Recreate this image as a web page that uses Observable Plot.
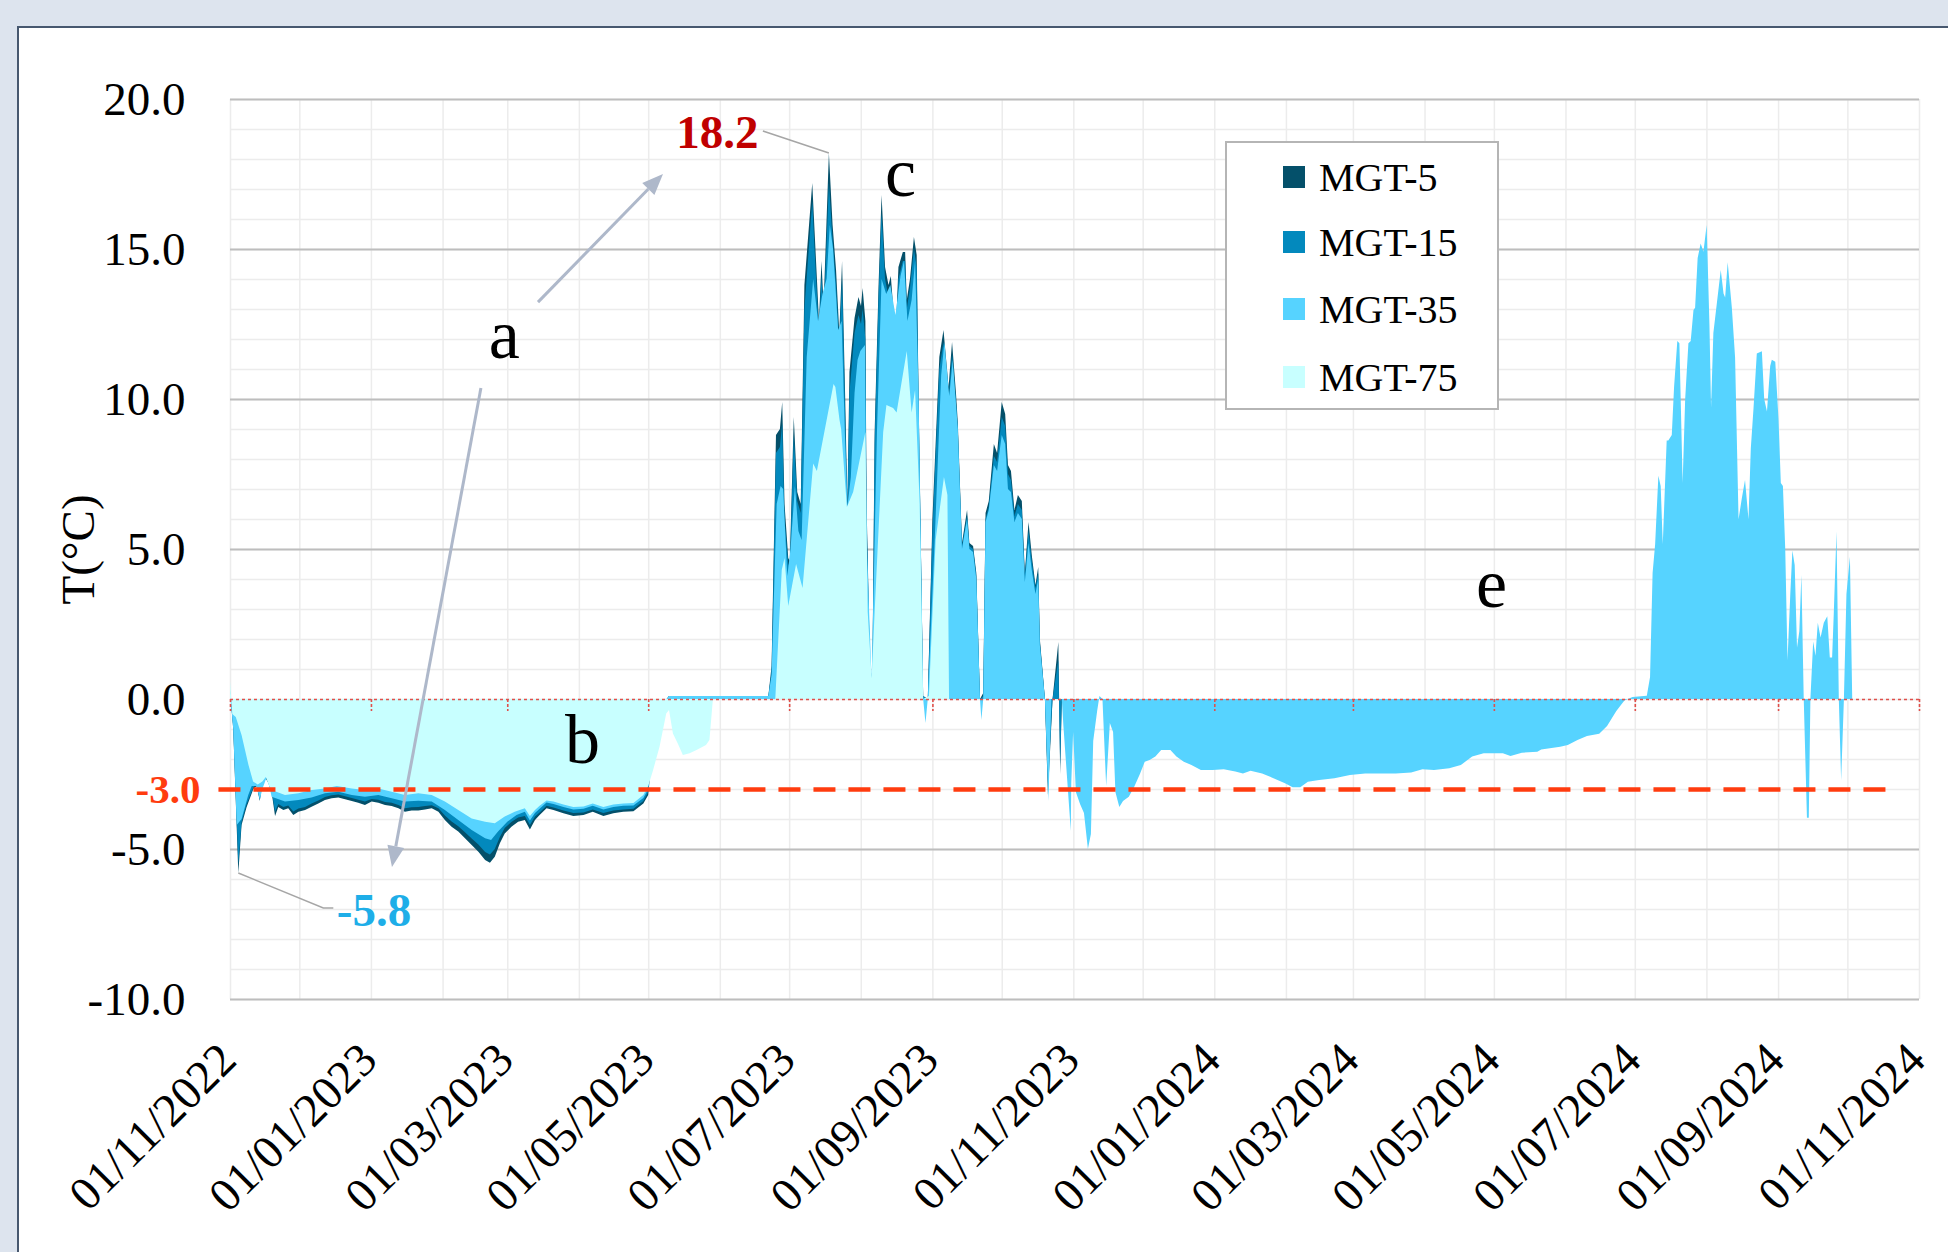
<!DOCTYPE html>
<html>
<head>
<meta charset="utf-8">
<script src="https://cdn.jsdelivr.net/npm/d3@7"></script>
<script src="https://cdn.jsdelivr.net/npm/@observablehq/plot@0.6"></script>
<style>
  html, body { margin: 0; padding: 0; }
  body {
    width: 1948px; height: 1252px; overflow: hidden; position: relative;
    background: #dde4ee;
    font-family: "Liberation Serif", "Times New Roman", serif;
  }
  #panel {
    position: absolute; left: 17px; top: 26px; width: 2000px; height: 1300px;
    background: #fff; border: 2px solid #47586f; box-sizing: border-box;
  }
  #chart { position: absolute; left: 0; top: 0; }
  #legend {
    position: absolute; left: 1225px; top: 141px; width: 274px; height: 269px;
    box-sizing: border-box; border: 2px solid #b5b5b5; background: #fff;
  }
  #legend .row {
    position: absolute; left: 56px; height: 44px;
    display: flex; align-items: center; font-size: 40px; color: #000; white-space: nowrap;
  }
  #legend .sw { width: 22px; height: 22px; margin-right: 14px; }
</style>
</head>
<body>
<div id="panel"></div>
<div id="chart"></div>
<div id="legend"></div>
<script>
// Ground temperature at four depths, day offsets counted from 01/11/2022.
const startDate = Date.UTC(2022, 10, 1);
const endDate = Date.UTC(2024, 10, 1);

const seriesNames = ["MGT-5", "MGT-15", "MGT-35", "MGT-75"];

const mgt5 = [
  [0,0.3],[1.4,-1.0],[3.6,-5.8],[5,-4.2],[7.2,-3.6],[10.1,-3.0],[11.5,-2.9],[12.9,-3.4],[14,-2.8],[15.1,-2.6],
  [16.6,-2.8],[18,-3.1],[19.5,-3.9],[20.9,-3.6],[23.1,-3.7],[25.2,-3.64],[27.4,-3.87],[29.6,-3.76],[32.5,-3.7],
  [35.3,-3.59],[38.2,-3.48],[41.1,-3.37],[44,-3.31],[46.9,-3.28],[49.8,-3.34],[52.7,-3.4],[55.5,-3.46],[58.4,-3.53],
  [61.3,-3.42],[64.2,-3.46],[67.1,-3.53],[70,-3.57],[72.9,-3.64],[75.7,-3.76],[78.6,-3.72],[81.5,-3.72],[84.4,-3.68],
  [87.3,-3.64],[90.2,-3.76],[93,-4.03],[95.9,-4.26],[98.8,-4.42],[101.7,-4.64],[104.6,-4.87],[107.5,-5.09],[110.4,-5.37],
  [112.5,-5.46],[114.6,-5.26],[116.8,-4.81],[118.9,-4.48],[121.8,-4.26],[124.7,-4.09],[127.6,-4.03],[129.8,-4.35],
  [132,-4.03],[134,-3.87],[137,-3.64],[140,-3.7],[144.3,-3.81],[148.6,-3.9],[153,-3.87],[157,-3.76],[161.6,-3.9],
  [165.9,-3.81],[170.2,-3.76],[174.6,-3.74],[178.9,-3.48],[181,-3.2],[183,-1.5],[186,-0.3],[190,0.1],[233,0.1],
  [234.4,1.1],[236.3,8.8],[238,9.0],[239,9.9],[240,6.5],[241.6,4.7],[242.3,4.6],[244,9.4],[245.5,6.9],[247,6.5],
  [248.6,13.8],[252,17.2],[253,15.6],[254.9,12.6],[256,14.6],[256.9,13.1],[259.2,18.2],[260.8,15.8],[262.3,14.3],
  [263.7,12.2],[264.9,14.6],[266.2,10.2],[267.2,6.5],[268.1,10.9],[270.3,12.7],[272,13.4],[273.1,13.1],[273.8,13.7],
  [275,12.6],[275.5,6.5],[277,1.1],[278,0.6],[279,8.9],[280.7,13.8],[282,16.8],[283.5,14.4],[285,13.8],[286,14.1],
  [287.1,13.0],[288.3,12.5],[289.3,14.4],[291.2,14.9],[292.2,14.9],[292.9,13.3],[294.3,14.0],[296,15.4],[297.2,14.8],
  [298,10.2],[300,0.1],[302,0],[304,6.0],[307,11.4],[308.8,12.3],[311,10.4],[312.5,11.9],[314.2,10.2],[315,9.2],
  [316.8,5.2],[319,6.3],[320,5.2],[321.6,5.1],[323,4.2],[324.6,0],[326,0.2],[327,6.2],[328.4,6.6],[330.6,8.5],
  [332,8.2],[334,9.9],[335.5,9.5],[336.7,7.8],[338,7.6],[339.5,6.3],[341,6.8],[342.7,6.6],[344,4.2],[345.6,5.9],
  [347,4.8],[348.6,3.8],[349.8,4.4],[350.5,2.0],[352.7,0],[354,-3.2],[356,0],[358.5,1.9],[359.3,-2.5],[360,0]
];

const mgt15 = [
  [0,0.2],[1.4,-0.9],[3.6,-5.5],[5,-4.1],[7.2,-3.5],[10.1,-2.95],[11.5,-2.85],[12.9,-3.35],[14,-2.75],[15.1,-2.6],
  [16.6,-2.75],[18,-3.05],[19.5,-3.75],[20.9,-3.5],[23.1,-3.6],[25.2,-3.55],[27.4,-3.75],[29.6,-3.65],[32.5,-3.6],
  [35.3,-3.48],[38.2,-3.38],[41.1,-3.27],[44,-3.21],[46.9,-3.18],[49.8,-3.24],[52.7,-3.3],[55.5,-3.36],[58.4,-3.42],
  [61.3,-3.33],[64.2,-3.36],[67.1,-3.43],[70,-3.46],[72.9,-3.53],[75.7,-3.64],[78.6,-3.61],[81.5,-3.6],[84.4,-3.57],
  [87.3,-3.54],[90.2,-3.64],[93,-3.88],[95.9,-4.08],[98.8,-4.24],[101.7,-4.44],[104.6,-4.65],[107.5,-4.85],[110.4,-5.1],
  [112.5,-5.18],[114.6,-5.0],[116.8,-4.6],[118.9,-4.3],[121.8,-4.1],[124.7,-3.95],[127.6,-3.9],[129.8,-4.2],
  [132,-3.92],[134,-3.78],[137,-3.56],[140,-3.62],[144.3,-3.72],[148.6,-3.8],[153,-3.78],[157,-3.68],[161.6,-3.8],
  [165.9,-3.72],[170.2,-3.68],[174.6,-3.66],[178.9,-3.4],[181,-3.1],[183,-1.4],[186,-0.3],[190,0.1],[233,0.1],
  [234.4,0.9],[236.3,8.2],[238,8.4],[239,9.2],[240,6.0],[241.6,4.5],[242.3,4.4],[244,8.8],[245.5,6.6],[247,6.2],
  [248.6,13.0],[252,16.6],[253,15.0],[254.9,12.2],[256,14.1],[256.9,12.7],[259.2,17.2],[260.8,15.3],[262.3,13.8],
  [263.7,11.8],[264.9,14.0],[266.2,9.6],[267.2,6.3],[268.1,10.2],[270.3,12.2],[272,12.8],[273.1,12.5],[273.8,13.0],
  [275,12.0],[275.5,6.2],[277,1.0],[278,0.6],[279,8.5],[280.7,13.4],[282,16.2],[283.5,14.0],[285,13.4],[286,13.7],
  [287.1,12.6],[288.3,12.2],[289.3,14.0],[291.2,14.6],[292.2,14.6],[292.9,13.0],[294.3,13.7],[296,15.0],[297.2,14.4],
  [298,10.0],[300,0.1],[302,0],[304,5.6],[307,11.0],[308.8,11.9],[311,10.0],[312.5,11.5],[314.2,9.9],[315,9.0],
  [316.8,5.1],[319,6.1],[320,5.1],[321.6,5.0],[323,4.1],[324.6,0],[326,0.1],[327,6.0],[328.4,6.4],[330.6,8.1],
  [332,7.9],[334,9.4],[335.5,9.1],[336.7,7.5],[338,7.3],[339.5,6.1],[341,6.5],[342.7,6.3],[344,4.1],[345.6,5.6],
  [347,4.6],[348.6,3.7],[349.8,4.2],[350.5,1.9],[352.7,0],[354,-2.8],[356,0],[358.5,1.3],[359.3,-2.2],[360,0]
];

const mgt35 = [
  [0,0.2],[1.4,-1.0],[2.9,-4.2],[5,-4.0],[7.9,-3.2],[9.4,-2.9],[11.5,-2.9],[12.9,-3.35],[14,-3.0],[15.9,-2.6],
  [17.3,-3.0],[18,-3.26],[23.8,-3.42],[29.6,-3.37],[35.3,-3.28],[41.1,-3.14],[46.9,-3.09],[52.7,-3.2],[58.4,-3.26],
  [64.2,-3.2],[70,-3.31],[75.7,-3.42],[81.5,-3.39],[87.3,-3.42],[93,-3.7],[98.8,-4.03],[104.6,-4.37],[110.4,-4.64],
  [113,-4.7],[116,-4.42],[120,-4.09],[124,-3.87],[127.6,-3.76],[129.8,-4.05],[132,-3.8],[134,-3.66],[137,-3.45],
  [140,-3.5],[144.3,-3.6],[148.6,-3.68],[153,-3.66],[157,-3.56],[161.6,-3.68],[165.9,-3.6],[170.2,-3.56],[174.6,-3.55],
  [178.9,-3.3],[181,-3.0],[183,-1.4],[186,-0.3],[190,0.1],[233,0.1],
  [234.4,0.8],[236.6,6.5],[238.3,7.1],[239.4,7.0],[241.2,4.1],[242.6,5.0],[244.5,7.1],[246,5.6],[247.4,5.3],
  [249.6,11.4],[252.4,14.0],[254.5,12.6],[256.4,13.5],[258.2,14.0],[259.6,15.8],[261,15.0],[263.2,12.3],[264.7,12.6],
  [266.1,8.9],[267.2,6.4],[268.7,7.4],[270.3,10.2],[271.6,11.3],[272.8,11.6],[274.8,11.8],[275.5,5.3],[277.7,0.6],
  [280,8.9],[282,14.0],
  [284,13.5],[285.8,13.8],[288,12.8],[290.2,14.1],[291.7,14.6],[293.2,12.6],[295,13.3],[296.5,14.6],[298,10.2],
  [300,0],[301,-0.8],[302,0],[305,5.3],[307.8,10.8],[309.2,11.9],[311.3,10.1],[312.8,11.3],[315,9.0],[316.8,5.0],
  [319,6.0],[320,5.0],[321.6,4.9],[323,4.0],[324.6,0],[325.2,-0.7],[326,0],[327,5.9],[328.4,6.3],[330.6,7.8],
  [332,7.6],[334,8.8],[335.5,8.5],[336.7,7.0],[338,6.9],[339.5,5.9],[341,6.2],[342.7,6.0],[344,3.9],[345.6,5.2],
  [347,4.3],[348.6,3.5],[349.8,4.0],[350.5,1.8],[352.7,0],[354.2,-3.4],[355.5,0],[360,0],[360.7,-0.9],[363.9,-4.4],
  [364.1,-2.8],[364.9,-1.1],[366.1,-3.1],[367.9,-3.5],[369.6,-3.8],[371.3,-5.0],[372.6,-4.5],[373.6,-1.4],[375.3,-0.4],
  [376.3,0.1],[377.6,0],[379.2,-2.9],[380.8,-0.8],[382.2,-1.1],[383.2,-3.1],[384.9,-3.6],[386.5,-3.4],[389,-3.26],
  [391.4,-2.92],[393.9,-2.48],[395.9,-2.09],[398,-2.03],[400.5,-1.92],[403,-1.7],[407,-1.7],[409.6,-1.92],[412.8,-2.09],
  [416.1,-2.2],[420.2,-2.37],[425.2,-2.37],[430.1,-2.34],[435.1,-2.42],[438.4,-2.48],[441.7,-2.39],[446.7,-2.48],
  [451.6,-2.64],[456.6,-2.81],[459.9,-2.94],[463.2,-2.94],[466.5,-2.76],[471.4,-2.7],[478,-2.64],[484.7,-2.53],
  [491.3,-2.48],[497.9,-2.48],[504.5,-2.48],[511.2,-2.45],[516.1,-2.34],[521.1,-2.37],[527.7,-2.31],[532.7,-2.2],
  [537.6,-1.92],[542.6,-1.81],[550.9,-1.81],[554.2,-1.9],[559.1,-1.79],[565.8,-1.76],[567.5,-1.68],[575.7,-1.59],
  [579,-1.53],[583.2,-1.37],[587.3,-1.23],[592.6,-1.16],[596,-0.9],[600,-0.4],[603.5,-0.05],[607,0.07],[613.2,0.11],
  [614.6,0.73],[615.7,4.2],[616.8,5.16],[618.2,7.44],[619.2,7.1],[620.1,5.16],[621.8,8.62],[622.5,8.62],[624,8.8],
  [625,10.41],[626.4,11.93],[627.3,11.86],[628.7,7.2],[629.8,10.0],[631.2,11.86],[632.2,11.93],[633.4,12.97],
  [634.1,13.04],[635.2,14.7],[636.5,15.18],[637.7,14.91],[639.1,15.8],[640.3,12.49],[641,9.72],[642,12.2],[643.5,13.18],
  [645.2,14.3],[646.4,13.52],[647.1,13.38],[648.2,14.56],[650,13.04],[651.4,11.38],[652.9,5.99],[654.3,6.68],
  [655.7,7.3],[657.2,5.99],[658.2,8.34],[659.4,9.72],[660.8,11.52],[663,11.59],[664,10.0],[665.2,9.58],[666.6,11.1],
  [667.3,11.31],[668.8,11.24],[670.2,9.31],[671.2,7.2],[672.1,7.1],[673.1,5.02],[674.1,1.29],[675.3,3.5],[676.2,4.95],
  [677.2,4.47],[678.2,1.71],[679.2,2.26],[680.1,4.13],[681.1,0.04],[682.5,-3.96],[683.3,-3.96],[684,0],[685.2,1.92],
  [686.2,1.44],[687.2,2.54],[688.4,2.05],[689.8,2.54],[691.3,2.76],[692.4,1.38],[693.4,1.38],[694.1,2.82],[695.3,5.58],
  [696.3,0],[697.3,-2.71],[698.5,0],[699.6,3.5],[701.1,4.74],[702.1,0]
];

const mgt75 = [
  [0,0.6],[1,-0.5],[2.5,-0.6],[5,-1.2],[8,-2.2],[10,-2.75],[12,-2.85],[14,-2.75],[15.5,-2.6],[17,-2.9],
  [18,-3.03],[23.8,-3.2],[29.6,-3.14],[35.3,-3.03],[41.1,-2.98],[46.2,-2.9],[52.7,-2.98],[58.4,-3.03],[64.2,-2.98],
  [70,-3.09],[75.7,-3.2],[81.5,-3.14],[87.3,-3.2],[93,-3.42],[98.8,-3.7],[104.6,-3.98],[110.4,-4.09],[114.6,-4.14],
  [118.9,-3.92],[123.2,-3.76],[127.6,-3.64],[129.8,-3.9],[132,-3.7],[134,-3.56],[137,-3.38],[140,-3.42],[144.3,-3.52],
  [148.6,-3.6],[153,-3.58],[157,-3.48],[161.6,-3.6],[165.9,-3.52],[170.2,-3.48],[174.6,-3.47],[178.9,-3.2],[181,-2.9],
  [183,-2.4],[185.9,-1.59],[188.8,-0.48],[190,-0.37],[191.7,-1.15],[193.8,-1.48],[196,-1.87],[198.9,-1.81],
  [201.9,-1.7],[206,-1.53],[207.5,-1.37],[209,0],[236,0],[238.8,4.3],[240,4.7],[241.6,3.1],[245,4.5],[247.8,3.7],
  [252.4,7.85],[254,7.6],[261.2,10.5],[262,10.4],[263.8,9.3],[264.5,9.0],[267,6.4],[269.7,6.9],[272.6,8.0],[275,8.9],
  [276,2.9],[277.7,0.7],[279,2.9],[282.7,8.9],[284.1,9.8],[287,9.7],[288.5,9.55],[292.9,11.6],[295,9.55],[296.5,10.3],
  [298.5,6.5],[300,0],[302.5,0.1],[305.4,5.3],[309,7.4],[310.5,6.8],[311.2,0]
];

const seriesValues = [mgt5, mgt15, mgt35, mgt75];
const seriesFill = ["#04506a", "#0389bd", "#56d3ff", "#c8ffff"];

const yTicks = [-10, -5, 0, 5, 10, 15, 20];
const xTickLabels = [
  "01/11/2022", "01/01/2023", "01/03/2023", "01/05/2023", "01/07/2023", "01/09/2023", "01/11/2023",
  "01/01/2024", "01/03/2024", "01/05/2024", "01/07/2024", "01/09/2024", "01/11/2024"
];
const yLabel = "T(°C)";
const thresholdValue = -3.0;
const thresholdSpanDays = [-5, 717.6];

// Letter annotations (baseline positions in chart units) and the two arrows leaving "a".
const letters = [
  {text: "a", day: 118.5, temp: 11.37, weight: "normal"},
  {text: "b", day: 152.3, temp: -2.1, weight: "normal"},
  {text: "c", day: 290, temp: 16.8, weight: "bold"},
  {text: "e", day: 545.8, temp: 3.1, weight: "normal"}
];
const arrows = [
  {from: [133.3, 13.23], to: [187.4, 17.5]},
  {from: [108.6, 10.37], to: [70.1, -5.6]}
];

const dayToDate = (d) => new Date(startDate + d * 86400000);
const parseTick = d3.utcParse("%d/%m/%Y");
const xTickDates = xTickLabels.map(parseTick);

const rows = seriesValues.map((pts) => pts.map(([d, t]) => ({date: dayToDate(d), temp: t})));
const peak = rows[0].reduce((a, b) => (b.temp > a.temp ? b : a));
const trough = rows[0].reduce((a, b) => (b.temp < a.temp ? b : a));

const monthLines = d3.utcMonth.range(new Date(startDate), new Date(endDate + 86400000));
const minorLevels = d3.range(-10, 21, 1);

const serif = "Liberation Serif";

const chart = Plot.plot({
  width: 1948,
  height: 1252,
  marginLeft: 230,
  marginRight: 29,
  marginTop: 99,
  marginBottom: 253,
  x: {type: "utc", domain: [new Date(startDate), new Date(endDate)], axis: null},
  y: {domain: [-10, 20], axis: null},
  style: {background: "transparent", fontFamily: serif, overflow: "visible"},
  marks: [
    Plot.ruleY(minorLevels, {stroke: "#ececec", strokeWidth: 1.5}),
    Plot.ruleX(monthLines, {stroke: "#ececec", strokeWidth: 1.5}),
    Plot.ruleY(yTicks.filter((v) => v !== 0), {stroke: "#bdbdbd", strokeWidth: 2}),
    ...rows.map((data, i) => Plot.areaY(data, {x: "date", y: "temp", fill: seriesFill[i], curve: "linear"})),
    Plot.ruleY([thresholdValue], {
      x1: dayToDate(thresholdSpanDays[0]), x2: dayToDate(thresholdSpanDays[1]),
      stroke: "#ff3c0f", strokeWidth: 4.5, strokeDasharray: "22,13"
    }),
    Plot.ruleY([0], {stroke: "#e0504b", strokeWidth: 1.6, strokeDasharray: "3,3"}),
    Plot.ruleX(xTickDates, {y1: 0, y2: 0, insetBottom: -12, stroke: "#e0504b", strokeWidth: 1.6, strokeDasharray: "3,2"}),
    Plot.text(yTicks, {
      y: (d) => d, frameAnchor: "left", text: (d) => d.toFixed(1),
      textAnchor: "end", dx: -45, fontSize: 47, fill: "#000"
    }),
    Plot.text([thresholdValue], {
      y: (d) => d, frameAnchor: "left", text: (d) => d.toFixed(1),
      textAnchor: "end", dx: -30, fontSize: 41, fontWeight: "bold", fill: "#ff3c0f"
    }),
    Plot.text([yLabel], {
      frameAnchor: "left", dx: -152, rotate: -90, textAnchor: "middle",
      fontSize: 47, fill: "#000"
    }),
    Plot.text(xTickDates, {
      x: (d) => d, frameAnchor: "bottom", text: (d, i) => xTickLabels[i],
      rotate: -45, textAnchor: "end", lineAnchor: "bottom", dx: 8, dy: 63, fontSize: 47, fill: "#000"
    }),
    Plot.text([peak], {
      x: "date", y: "temp", text: (d) => d.temp.toFixed(1),
      textAnchor: "end", lineAnchor: "bottom", dx: -71, dy: -6,
      fontSize: 47, fontWeight: "bold", fill: "#c00000"
    }),
    Plot.text([trough], {
      x: "date", y: "temp", text: (d) => d.temp.toFixed(1),
      textAnchor: "start", lineAnchor: "bottom", dx: 98, dy: 52,
      fontSize: 47, fontWeight: "bold", fill: "#1eaee8"
    }),
    Plot.text(letters, {
      x: (d) => dayToDate(d.day), y: "temp", text: "text",
      lineAnchor: "bottom", fontSize: 70, fontWeight: (d) => d.weight, fill: "#000"
    })
  ]
});

document.getElementById("chart").appendChild(chart);

// Leader lines and arrows, placed with the chart's own x and y scales.
const sx = chart.scale("x"), sy = chart.scale("y");
const X = d3.scaleUtc().domain(sx.domain).range(sx.range);
const Y = d3.scaleLinear().domain(sy.domain).range(sy.range);
const overlay = d3.select(chart).append("g");

const px = X(peak.date), py = Y(peak.temp);
overlay.append("polyline")
  .attr("points", `${px},${py} ${px - 66},${py - 22}`)
  .attr("fill", "none").attr("stroke", "#a6a6a6").attr("stroke-width", 1.5);

const tx = X(trough.date), ty = Y(trough.temp);
overlay.append("polyline")
  .attr("points", `${tx},${ty} ${tx + 85},${ty + 35} ${tx + 95},${ty + 35}`)
  .attr("fill", "none").attr("stroke", "#a6a6a6").attr("stroke-width", 1.5);

for (const a of arrows) {
  const x1 = X(dayToDate(a.from[0])), y1 = Y(a.from[1]);
  const x2 = X(dayToDate(a.to[0])), y2 = Y(a.to[1]);
  const ang = Math.atan2(y2 - y1, x2 - x1);
  const L = 21, W = 8.5;
  const bx = x2 - L * Math.cos(ang), by = y2 - L * Math.sin(ang);
  overlay.append("line")
    .attr("x1", x1).attr("y1", y1).attr("x2", bx).attr("y2", by)
    .attr("stroke", "#aeb8ca").attr("stroke-width", 3);
  overlay.append("path")
    .attr("d", `M${x2},${y2}L${bx + W * Math.sin(ang)},${by - W * Math.cos(ang)}L${bx - W * Math.sin(ang)},${by + W * Math.cos(ang)}Z`)
    .attr("fill", "#aeb8ca");
}

// Legend
const legend = document.getElementById("legend");
const rowCenters = [36, 101, 168, 236];
seriesNames.forEach((name, i) => {
  const row = document.createElement("div");
  row.className = "row";
  row.style.top = (rowCenters[i] - 22 - 2) + "px";
  const sw = document.createElement("span");
  sw.className = "sw";
  sw.style.background = seriesFill[i];
  const label = document.createElement("span");
  label.textContent = name;
  row.appendChild(sw);
  row.appendChild(label);
  legend.appendChild(row);
});
</script>
</body>
</html>
